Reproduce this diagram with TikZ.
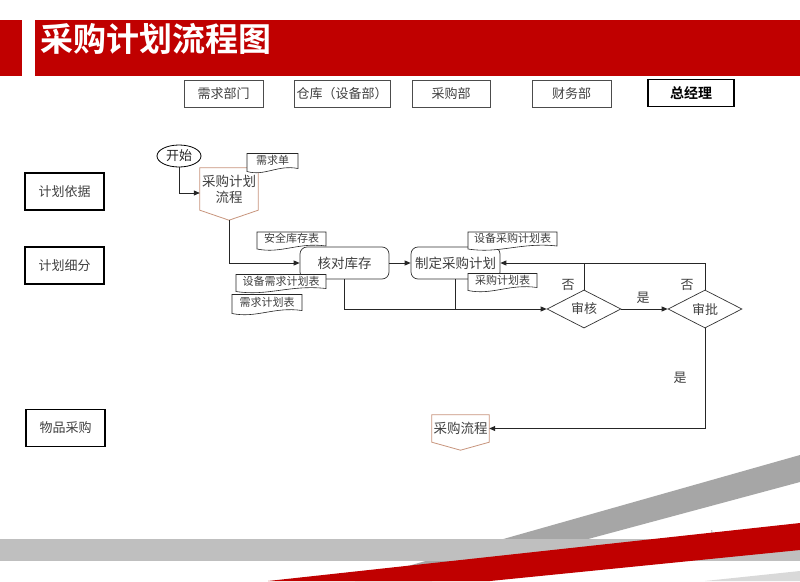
\documentclass[tikz,border=0pt]{standalone}
\usepackage{fontspec}
\setmainfont{Noto Sans CJK SC}[BoldFont={Noto Sans CJK SC Bold}]
\usetikzlibrary{shapes.geometric,arrows.meta,calc}
\definecolor{brandred}{HTML}{C00000}
\definecolor{txt}{HTML}{404040}
\definecolor{pent}{HTML}{C8957D}
\definecolor{band}{HTML}{BFBFBF}
\definecolor{bandd}{HTML}{A6A6A6}
\definecolor{bandl}{HTML}{D9D9D9}
\newcommand{\fsz}[2]{\fontsize{#1}{#2}\selectfont}
\newcommand{\docnode}[6]{%
  \pgfmathsetmacro\dxa{#2-#4/2}\pgfmathsetmacro\dxb{#2+#4/2}%
  \pgfmathsetmacro\dya{#3-#5/2}\pgfmathsetmacro\dyb{#3+#5/2}%
  \draw[docline] (\dxb,\dyb-1) -- (\dxb,\dya) -- (\dxa,\dya) -- (\dxa,\dyb+2)
     .. controls (\dxa+#4*0.35,\dyb+7) and (\dxb-#4*0.4,\dyb-5) .. (\dxb,\dyb-1) -- cycle;
  \node[doctext] (#1) at (#2,#3-1) {#6};}
\begin{document}
\begin{tikzpicture}[x=1pt,y=-1pt,
  every node/.style={text=txt},
  hdr/.style={draw=black!70, line width=0.8pt, minimum width=#1, minimum height=27pt, inner sep=0pt, font=\fsz{13}{15}},
  side/.style={draw=black, line width=1.5pt, minimum width=79pt, minimum height=37pt, inner sep=0pt, font=\fsz{13}{15}},
  proc/.style={draw=black!80, line width=0.7pt, rounded corners=7pt, fill=white, minimum width=89pt, minimum height=32pt, inner sep=0pt, font=\fsz{13.5}{16}},
  dec/.style={diamond, draw=black!80, line width=0.7pt, fill=white, minimum width=74pt, minimum height=36pt, inner sep=0pt, font=\fsz{13}{15}},
  pnode/.style={minimum width=#1, inner sep=0pt, align=center, font=\fsz{13.5}{16}},
  pentline/.style={draw=pent, line width=0.8pt},
  docline/.style={draw=black!85, line width=0.6pt, fill=white},
  doctext/.style={inner sep=0pt, font=\fsz{11}{13}},
  lab/.style={inner sep=0pt, font=\fsz{13}{15}},
  conn/.style={draw=black!85, line width=0.8pt},
  arr/.style={conn, -{Triangle[length=6pt,width=5pt]}}
]
\useasboundingbox (0,0) rectangle (800,581);
\fill[white] (0,0) rectangle (800,581);

% title bar
\fill[brandred] (0,20) rectangle (22,76);
\fill[brandred] (35,20) rectangle (800,76);
\node[anchor=west, inner sep=0pt, text=white, font=\fsz{33}{36}\bfseries] (title) at (40,39) {采购计划流程图};

% bottom decoration
\fill[bandd] (355,581) -- (800,455) -- (800,482) -- (432,581) -- cycle;
\fill[band] (0,539) rectangle (800,561);
\fill[brandred] (268,581) -- (800,523) -- (800,550) -- (490,581) -- cycle;
\fill[bandl] (705,581) -- (800,571) -- (800,581) -- cycle;
\node[inner sep=0pt, font=\fsz{4}{5}, text=black!60] (pagenum) at (712,532) {1};

% department headers
\node[hdr=79pt] (h1) at (223.5,93.5) {需求部门};
\node[hdr=96pt] (h2) at (342,93.5) {仓库（设备部）};
\node[hdr=78pt] (h3) at (451,93.5) {采购部};
\node[hdr=79pt] (h4) at (571.5,93.5) {财务部};
\node[hdr=86pt, draw=black, line width=1.2pt, text=black, font=\fsz{14}{16}\bfseries] (h5) at (691,93) {总经理};

% phase boxes
\node[side] (s1) at (64.5,191.5) {计划依据};
\node[side] (s2) at (64.5,265.5) {计划细分};
\node[side] (s3) at (65.5,428) {物品采购};

% flow nodes
\node[ellipse, draw=black, line width=0.8pt, minimum width=44pt, minimum height=22pt, inner sep=0pt, text=black!85, font=\fsz{13}{15}] (start) at (179,156) {开始};

\node[pnode=58pt, minimum height=42pt] (p1) at (229,189) {采购计划\\流程};
\coordinate (p1tip) at ([yshift=-10pt]p1.south);
\draw[pentline] (p1.north west) -- (p1.north east) -- (p1.south east) -- (p1tip) -- (p1.south west) -- cycle;

\node[proc] (check) at (344.5,263) {核对库存};
\node[proc] (plan) at (455.5,263) {制定采购计划};
\node[dec] (audit) at (584,309) {审核};
\node[dec] (approve) at (705,309) {审批};

\node[pnode=57pt, minimum height=27pt] (p2) at (460.5,428.5) {采购流程};
\coordinate (p2tip) at ([yshift=-8pt]p2.south);
\draw[pentline] (p2.north west) -- (p2.north east) -- (p2.south east) -- (p2tip) -- (p2.south west) -- cycle;

% connectors
\draw[arr] (start.south) |- ([yshift=-4pt]p1.west);
\draw[arr] (p1tip) |- (check.west);
\draw[arr] (check.east) -- (plan.west);
\draw[arr] (check.south) |- (audit.west);
\draw[conn] (plan.south) -- (plan.south |- audit.west);
\draw[arr] (audit.east) -- (approve.west);
\draw[arr] (approve.north) |- (plan.east);
\draw[conn] (audit.north) -- (audit.north |- plan.east);
\draw[arr] (approve.south) |- (p2.east);

% labels
\node[lab] (no1) at (568,285) {否};
\node[lab] (no2) at (687,285) {否};
\node[lab] (yes1) at (643,298) {是};
\node[lab] (yes2) at (680,378) {是};

% documents
\docnode{d1}{272.5}{161.5}{51}{16}{需求单}
\docnode{d2}{291.5}{239.5}{69}{15}{安全库存表}
\docnode{d3}{281}{282}{90}{15}{设备需求计划表}
\docnode{d4}{267}{303}{70}{17}{需求计划表}
\docnode{d5}{512.5}{239.5}{89}{15}{设备采购计划表}
\docnode{d6}{502.5}{281}{69}{15}{采购计划表}
\end{tikzpicture}
\end{document}
